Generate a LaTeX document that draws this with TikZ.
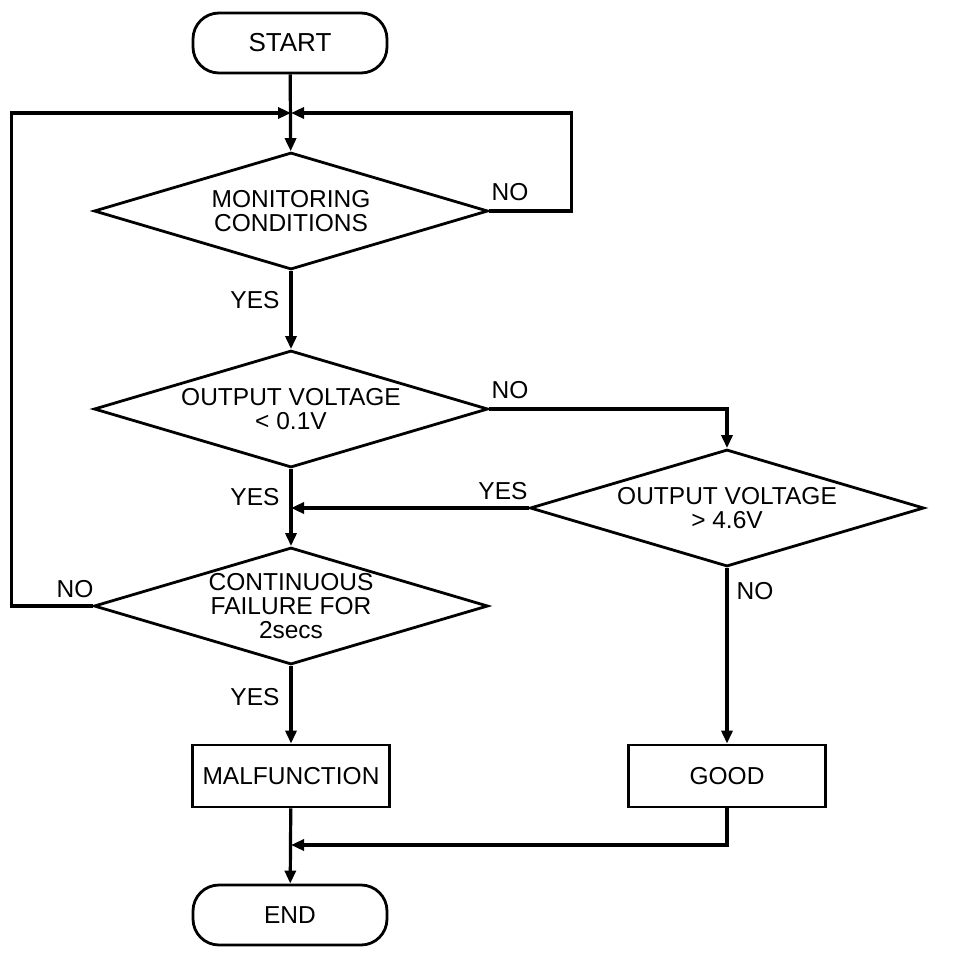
\documentclass[tikz,border=0pt]{standalone}
\usepackage{fontspec}
\setmainfont{Liberation Sans}
\usetikzlibrary{arrows.meta,shapes.geometric,positioning}

\begin{document}
\begin{tikzpicture}[x=1pt,y=-1pt,>={Triangle[length=13pt,width=11pt]},font=\fontsize{24.5}{24}\selectfont]
  \tikzstyle{term}=[draw,line width=2.8pt,rounded corners=26pt,minimum width=194pt,minimum height=60pt]
  \tikzstyle{check}=[draw,diamond,line width=2.8pt,aspect=3.4,inner sep=0pt,minimum width=394pt,minimum height=117pt,align=center]
  \tikzstyle{result}=[draw,line width=2.8pt,minimum width=197pt,minimum height=62pt]
  \tikzstyle{flow}=[->,line width=3.2pt]
  \useasboundingbox (0,0) rectangle (960,958);
  % shapes
  \node[term,font=\fontsize{26}{26}\selectfont] (start) at (290,43) {START};
  \node[check] (monitor) at (291,211) {MONITORING\\CONDITIONS};
  \node[check] (low) at (291,409) {OUTPUT VOLTAGE\\< 0.1V};
  \node[check] (high) at (727,508) {OUTPUT VOLTAGE\\> 4.6V};
  \node[check] (fail) at (291,606) {CONTINUOUS\\FAILURE FOR\\2secs};
  \node[result] (malf) at (291,776) {MALFUNCTION};
  \node[result] (good) at (727,776) {GOOD};
  \node[term] (end) at (290,915) {END};
  \coordinate (loop) at (291,113);
  \coordinate (join) at (291,845);
  % connectors
  \draw[flow] (start) -- (monitor);
  \draw[flow] (monitor.east) -- ++(82,0) |- (loop);
  \draw[flow] (fail.west) -- ++(-81,0) |- (loop);
  \draw[flow] (monitor) -- (low);
  \draw[flow] (low.east) -| (high.north);
  \draw[flow] (high.west) -- (high.west -| low.south);
  \draw[flow] (low) -- (fail);
  \draw[flow] (fail) -- (malf);
  \draw[flow] (high) -- (good);
  \draw[flow] (malf) -- (end);
  \draw[flow] (good) |- (join);
  % labels
  \node (monno) at (510,192) {NO};
  \node (monyes) at (255,300) {YES};
  \node (lowno) at (510,390) {NO};
  \node (lowyes) at (255,497) {YES};
  \node (highyes) at (503,491) {YES};
  \node (highno) at (755,591) {NO};
  \node (failno) at (75,589) {NO};
  \node (failyes) at (255,697) {YES};
\end{tikzpicture}
\end{document}
